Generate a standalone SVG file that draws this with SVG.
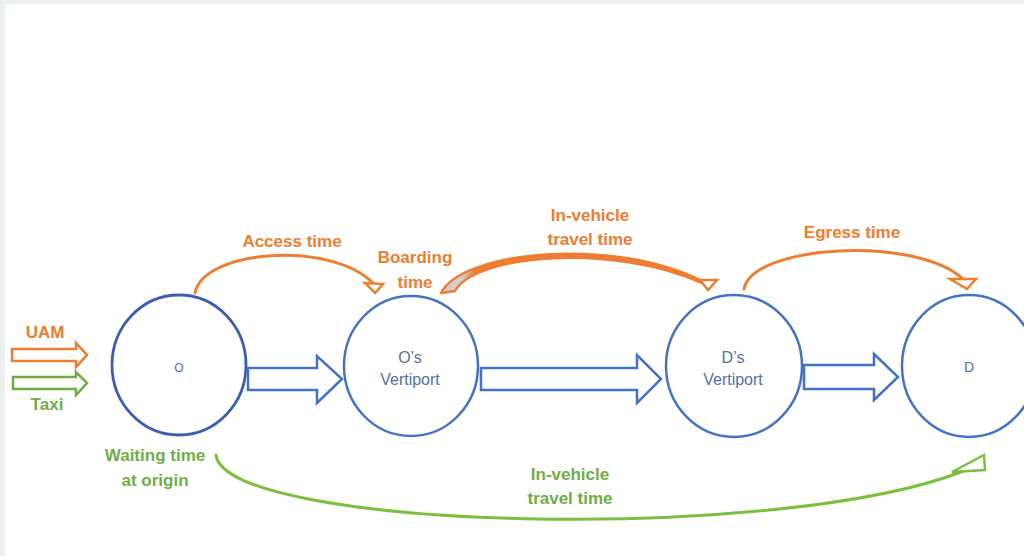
<svg xmlns="http://www.w3.org/2000/svg" width="1024" height="556" viewBox="0 0 1024 556">
  <defs>
    <style>
      .node { fill: #ffffff; stroke: #4472C4; stroke-width: 2.5; }
      .ntext { font-family: "Liberation Sans", Arial, sans-serif; font-size: 16px; fill: #5370A6; text-anchor: middle; }
      .block { fill: #ffffff; stroke: #4472C4; stroke-width: 2.5; stroke-linejoin: miter; }
      .orange-line { fill: none; stroke: #ED7D31; stroke-width: 3; stroke-linecap: round; }
      .orange-head { fill: #ffffff; stroke: #ED7D31; stroke-width: 2.5; stroke-linejoin: miter; }
      .green-line { fill: none; stroke: #7CBF3F; stroke-width: 3; stroke-linecap: round; }
      .green-head { fill: #ffffff; stroke: #7CBF3F; stroke-width: 2.5; }
      .olabel { font-family: "Liberation Sans", Arial, sans-serif; font-size: 17px; font-weight: bold; fill: #ED7D31; text-anchor: middle; }
      .glabel { font-family: "Liberation Sans", Arial, sans-serif; font-size: 17px; font-weight: bold; fill: #70AD47; text-anchor: middle; }
    </style>
    <linearGradient id="bandFill" gradientUnits="userSpaceOnUse" x1="441" y1="0" x2="703" y2="0">
      <stop offset="0" stop-color="#CFCFCF"/>
      <stop offset="0.08" stop-color="#CFCFCF"/>
      <stop offset="0.13" stop-color="#ED7D31"/>
      <stop offset="1" stop-color="#ED7D31"/>
    </linearGradient>
  </defs>

  <!-- page frame -->
  <rect x="0" y="0" width="1024" height="556" fill="#ECEFF0"/>
  <rect x="5" y="4" width="1019" height="552" fill="#ffffff"/>

  <!-- mode legend -->
  <g id="legend">
    <text class="olabel" x="45" y="338">UAM</text>
    <polygon points="12,349 76,349 76,343 87,355 76,367 76,361 12,361" fill="#ffffff" stroke="#ED7D31" stroke-width="2.5"/>
    <polygon points="13,377 76,377 76,372 87,383 76,395 76,389 13,389" fill="#ffffff" stroke="#70AD47" stroke-width="2.5"/>
    <text class="glabel" x="47" y="410">Taxi</text>
  </g>

  <!-- nodes -->
  <g id="node-o">
    <ellipse cx="179" cy="365" rx="67" ry="70" fill="#ffffff" stroke="#3B5FAE" stroke-width="2.8"/>
    <text class="ntext" x="179" y="372" style="font-size:12px">O</text>
  </g>
  <g id="node-o-vertiport">
    <ellipse class="node" cx="411" cy="366" rx="67" ry="70"/>
    <text class="ntext" x="410" y="363">O’s</text>
    <text class="ntext" x="410" y="385">Vertiport</text>
  </g>
  <g id="node-d-vertiport">
    <ellipse class="node" cx="734" cy="366" rx="68" ry="71"/>
    <text class="ntext" x="733" y="363">D’s</text>
    <text class="ntext" x="733" y="385">Vertiport</text>
  </g>
  <g id="node-d">
    <ellipse class="node" cx="969" cy="366" rx="67" ry="71"/>
    <text class="ntext" x="969" y="372" style="font-size:14px">D</text>
  </g>

  <!-- connectors -->
  <g id="connectors">
    <!-- block arrows along the trip -->
    <polygon class="block" points="248,368 317,368 317,356 342,379 317,403 317,390 248,390"/>
    <polygon class="block" points="481,368 637,368 637,355 661,379 637,403 637,390 481,390"/>
    <polygon class="block" points="804,365 874,365 874,354 898,377 874,400 874,389 804,389"/>

    <!-- access time -->
    <path class="orange-line" d="M 195 293 C 203 250, 330 240, 373 283"/>
    <polygon class="orange-head" points="365,283 383,284 375,293"/>

    <!-- boarding + in-vehicle (UAM) -->
    <path d="M 441 293 C 462 251, 612 236, 702 281 L 704 284 C 615 243, 475 254, 455 291 Z" fill="url(#bandFill)" stroke="#ED7D31" stroke-width="2.3" stroke-linejoin="round"/>
    <polygon class="orange-head" points="700,280 717,280 708,290"/>

    <!-- egress time -->
    <path class="orange-line" d="M 744 289 C 752 245, 915 235, 963 279"/>
    <polygon class="orange-head" points="950,279 976,279 967,289"/>

    <!-- taxi door-to-door -->
    <path class="green-line" d="M 216 455 C 225 530, 780 545, 966 470"/>
    <polygon class="green-head" points="952,472 984,455 985,470"/>
  </g>

  <!-- time labels -->
  <g id="labels">
    <text class="olabel" x="292" y="247">Access time</text>
    <text class="olabel" x="415" y="263">Boarding</text>
    <text class="olabel" x="415" y="288">time</text>
    <text class="olabel" x="590" y="221">In-vehicle</text>
    <text class="olabel" x="590" y="245">travel time</text>
    <text class="olabel" x="852" y="238">Egress time</text>
    <text class="glabel" x="155" y="461">Waiting time</text>
    <text class="glabel" x="155" y="486">at origin</text>
    <text class="glabel" x="570" y="480">In-vehicle</text>
    <text class="glabel" x="570" y="504">travel time</text>
  </g>
</svg>
